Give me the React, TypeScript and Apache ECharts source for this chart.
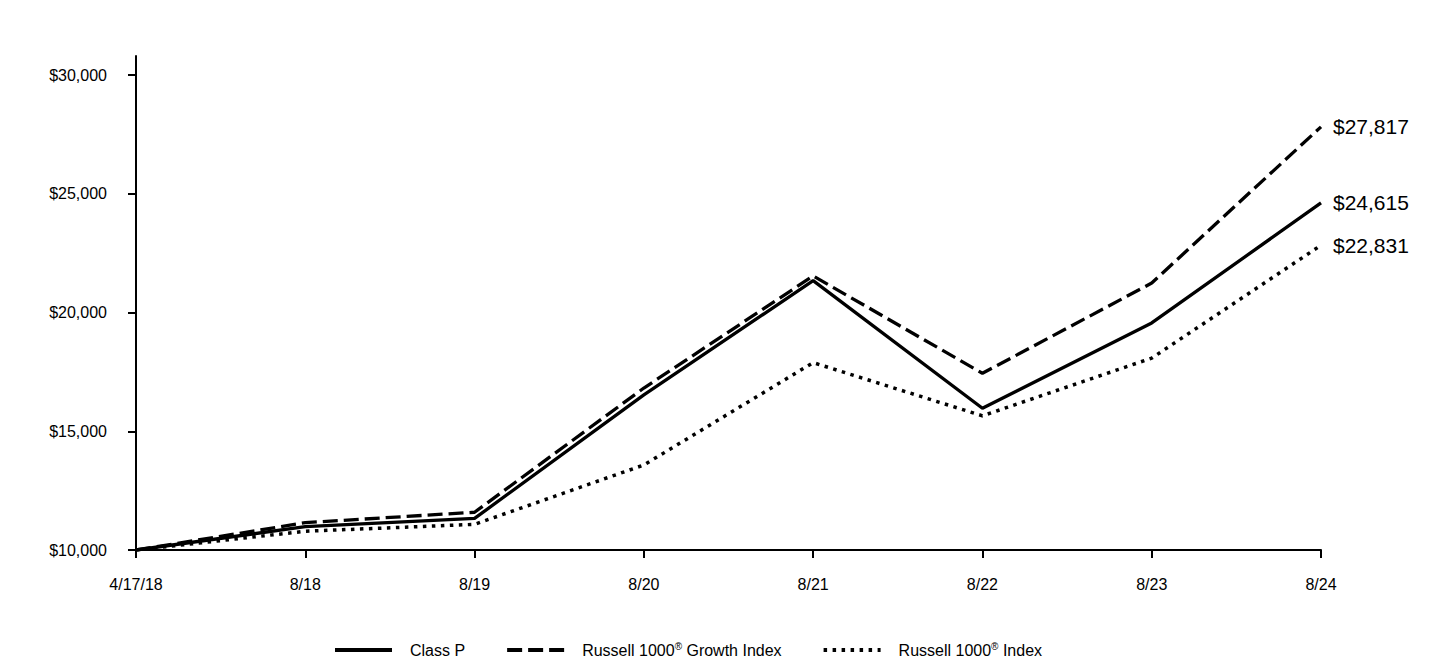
import React, { useEffect, useRef } from "react";
import * as echarts from "echarts";

const categories = ["4/17/18", "8/18", "8/19", "8/20", "8/21", "8/22", "8/23", "8/24"];
const classP = [10000, 10980, 11330, 16530, 21340, 15970, 19560, 24615];
const growthIndex = [10000, 11150, 11590, 16820, 21540, 17440, 21240, 27817];
const russellIndex = [10000, 10790, 11080, 13580, 17890, 15650, 18080, 22831];
const yTicks = [10000, 15000, 20000, 25000, 30000];
const seriesNames = ["Class P", "Russell 1000® Growth Index", "Russell 1000® Index"];

const fmt = (v: number) => "$" + Math.round(v).toLocaleString("en-US");
const FONT = "Liberation Sans, Arial, sans-serif";

export default function App() {
  const ref = useRef<HTMLDivElement>(null);
  useEffect(() => {
    if (!ref.current) return;
    const chart = echarts.init(ref.current, undefined, { renderer: "svg" });
    const endLabel = {
      show: true,
      distance: 12,
      fontSize: 21,
      fontFamily: FONT,
      color: "#000",
      formatter: (p: any) => fmt(p.value),
    };
    const mk = (name: string, data: number[], type: any, width: number) => ({
      name,
      type: "line",
      data,
      symbol: "none",
      showSymbol: false,
      lineStyle: { color: "#000", width, type, cap: "butt" },
      itemStyle: { color: "#000" },
      endLabel,
    });
    chart.setOption({
      animation: false,
      textStyle: { fontFamily: FONT },
      grid: { left: 136, right: 119, top: 56, bottom: 110, containLabel: false },
      xAxis: {
        type: "category",
        data: categories,
        boundaryGap: false,
        axisLine: { lineStyle: { color: "#000", width: 2 } },
        axisTick: { show: true, length: 8, lineStyle: { color: "#000", width: 2 } },
        axisLabel: { color: "#000", fontSize: 16, margin: 26, fontFamily: FONT },
        splitLine: { show: false },
      },
      yAxis: {
        type: "value",
        min: 10000,
        max: 30800,
        axisLine: { show: true, lineStyle: { color: "#000", width: 2 } },
        axisTick: { show: true, length: 8, lineStyle: { color: "#000", width: 2 }, customValues: yTicks },
        axisLabel: { color: "#000", fontSize: 16, margin: 29, fontFamily: FONT, customValues: yTicks, formatter: (v: number) => fmt(v) },
        splitLine: { show: false },
      },
      legend: {
        data: seriesNames,
        left: 333,
        top: 641,
        padding: 0,
        itemWidth: 57,
        itemHeight: 18,
        itemGap: 40,
        itemStyle: { opacity: 0 },
        lineStyle: { width: 4 },
        formatter: (n: string) => n.replace("®", "{sup|®}"),
        textStyle: {
          fontSize: 16,
          color: "#000",
          fontFamily: FONT,
          padding: [0, 0, 0, 13],
          rich: {
            sup: { fontSize: 10, verticalAlign: "top", padding: [0, 0, 8, 0], color: "#000", fontFamily: FONT },
          },
        },
      },
      series: [
        mk(seriesNames[0], classP, "solid", 3.3),
        mk(seriesNames[1], growthIndex, [15, 6], 3.3),
        mk(seriesNames[2], russellIndex, [3.5, 5.5], 3.5),
      ],
    });
    return () => chart.dispose();
  }, []);
  return <div ref={ref} style={{ width: 1440, height: 660, position: "absolute", left: 0, top: 0, background: "#fff" }} />;
}
